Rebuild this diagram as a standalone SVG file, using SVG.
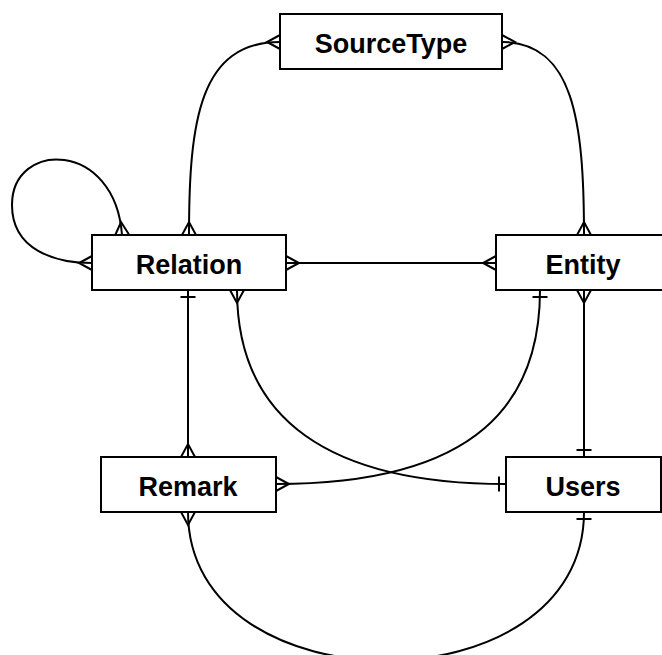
<svg xmlns="http://www.w3.org/2000/svg" width="662" height="655" viewBox="0 0 662 655">
  <style>
    .node rect { fill: #ffffff; stroke: #000000; stroke-width: 2; }
    .node text { font-family: "Liberation Sans", Arial, sans-serif; font-weight: bold; font-size: 27px; text-anchor: middle; fill: #000000; }
    .edge { fill: none; stroke: #000000; stroke-width: 2; }
    .many { marker-end: url(#many); }
    .mk { fill: none; stroke: #000000; stroke-width: 2; }
  </style>
  <defs>
    <!-- crow's foot (many) -->
    <marker id="many" markerUnits="userSpaceOnUse" viewBox="-16 -10 18 20" refX="0" refY="0" markerWidth="18" markerHeight="20" orient="auto-start-reverse" overflow="visible">
      <path class="mk" d="M0,-7 L-13,0 L0,7"/>
    </marker>
    <!-- single bar (one) -->
    <marker id="one" markerUnits="userSpaceOnUse" viewBox="-16 -10 18 20" refX="0" refY="0" markerWidth="18" markerHeight="20" orient="auto-start-reverse" overflow="visible">
      <path class="mk" d="M-7,-7.5 L-7,7.5"/>
    </marker>
  </defs>

  <g id="connectors">
    <!-- SourceType - Relation -->
    <path class="edge" d="M280,42 C200,42 189,120 189,235" marker-start="url(#many)" marker-end="url(#many)"/>
    <!-- SourceType - Entity -->
    <path class="edge" d="M502,42 C573,42 584,120 584,235" marker-start="url(#many)" marker-end="url(#many)"/>
    <!-- Relation self reference -->
    <path class="edge" d="M122,235 C115,140 12,140 12,205 C12,250 55,263 92,263" marker-start="url(#many)" marker-end="url(#many)"/>
    <!-- Relation - Entity -->
    <path class="edge" d="M286,263 L496,263" marker-start="url(#many)" marker-end="url(#many)"/>
    <!-- Relation - Remark -->
    <path class="edge" d="M188,290 L188,457" marker-start="url(#one)" marker-end="url(#many)"/>
    <!-- Relation - Users -->
    <path class="edge" d="M237,290 C237,420 330,484 506,484" marker-start="url(#many)" marker-end="url(#one)"/>
    <!-- Entity - Remark -->
    <path class="edge" d="M540,290 C540,400 480,484 276,484" marker-start="url(#one)" marker-end="url(#many)"/>
    <!-- Entity - Users -->
    <path class="edge" d="M584,290 L584,457" marker-start="url(#many)" marker-end="url(#one)"/>
    <!-- Remark - Users -->
    <path class="edge" d="M188,512 C188,710 584,710 584,512" marker-start="url(#many)" marker-end="url(#one)"/>
  </g>

  <g id="node-sourcetype" class="node">
    <rect x="280" y="14" width="222" height="55"/>
    <text x="391" y="53">SourceType</text>
  </g>
  <g id="node-relation" class="node">
    <rect x="92" y="235" width="194" height="55"/>
    <text x="189" y="274">Relation</text>
  </g>
  <g id="node-entity" class="node">
    <rect x="496" y="235" width="174" height="55"/>
    <text x="583" y="274">Entity</text>
  </g>
  <g id="node-remark" class="node">
    <rect x="101" y="457" width="175" height="55"/>
    <text x="188" y="496">Remark</text>
  </g>
  <g id="node-users" class="node">
    <rect x="506" y="457" width="155" height="55"/>
    <text x="583" y="496">Users</text>
  </g>
</svg>
